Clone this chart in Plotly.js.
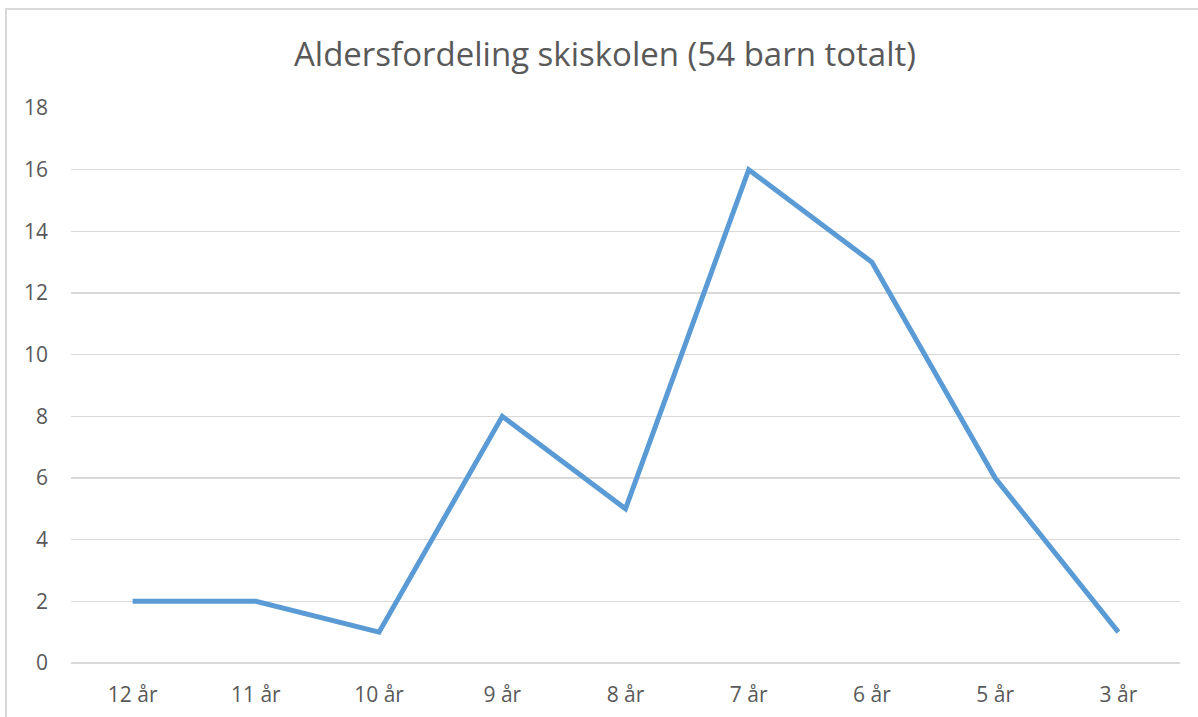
<!DOCTYPE html>
<html>
<head>
<meta charset="utf-8">
<script src="https://cdn.plot.ly/plotly-3.0.1.min.js"></script>
<style>
html,body{margin:0;padding:0;background:#fff;overflow:hidden;}
#frame{position:absolute;left:5px;top:8px;width:1300px;height:800px;border-left:2px solid #d9d9d9;border-top:2px solid #d9d9d9;}
#chart{position:absolute;left:0;top:0;width:1198px;height:717px;}
</style>
</head>
<body>
<div id="frame"></div>
<div id="chart"></div>
<script>
const categories = ["12 år","11 år","10 år","9 år","8 år","7 år","6 år","5 år","3 år"];
const counts = [2, 2, 1, 8, 5, 16, 13, 6, 1];
const yTicks = [0, 2, 4, 6, 8, 10, 12, 14, 16, 18];

const font = "'Open Sans', 'Noto Sans', sans-serif";
Plotly.newPlot("chart", [{
  type: "scatter",
  mode: "lines",
  x: categories,
  y: counts,
  line: {color: "#5b9bd5", width: 5, shape: "linear"},
  hoverinfo: "x+y"
}], {
  width: 1198, height: 717,
  paper_bgcolor: "rgba(0,0,0,0)",
  plot_bgcolor: "rgba(0,0,0,0)",
  margin: {l: 71, r: 18, t: 108, b: 54},
  showlegend: false,
  title: {text: "Aldersfordeling skiskolen (54 barn totalt)", x: 0.505, xanchor: "center", y: 0.924, yanchor: "middle",
          font: {family: font, size: 33, color: "#595959"}},
  xaxis: {type: "category", range: [-0.5, 8.5], showgrid: false, zeroline: false, showline: false,
          ticks: "", ticklabelstandoff: 17, tickfont: {family: font, size: 21, color: "#595959"}},
  yaxis: {range: [0, 18], tickvals: yTicks, ticktext: yTicks.map(String), showgrid: true, gridcolor: "#d9d9d9", gridwidth: 1.5,
          zeroline: true, zerolinecolor: "#d9d9d9", zerolinewidth: 1.5, showline: false, ticks: "",
          ticklabelstandoff: 22, tickfont: {family: font, size: 21, color: "#595959"}}
}, {displayModeBar: false, staticPlot: true});
</script>
</body>
</html>
